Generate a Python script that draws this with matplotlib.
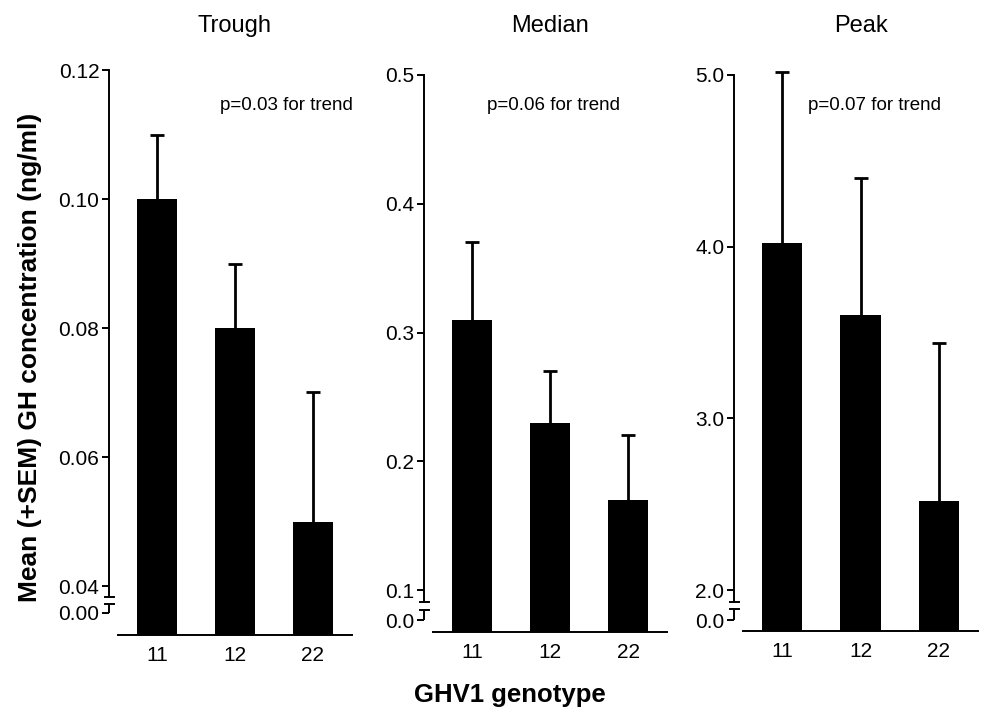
import matplotlib
matplotlib.use('Agg')
import matplotlib.pyplot as plt
import numpy as np
from matplotlib.transforms import blended_transform_factory

plt.rcParams['font.family'] = ['Liberation Sans', 'DejaVu Sans']
plt.rcParams['font.size'] = 15

# Data
genotypes = ['11', '12', '22']
panel_titles = ['Trough', 'Median', 'Peak']
p_texts = ['p=0.03 for trend', 'p=0.06 for trend', 'p=0.07 for trend']

trough_mean = [0.100, 0.080, 0.050]
trough_sem = [0.010, 0.010, 0.020]
median_mean = [0.31, 0.23, 0.17]
median_sem = [0.06, 0.04, 0.05]
peak_mean = [4.02, 3.60, 2.52]
peak_sem = [1.00, 0.80, 0.92]

trough_ticks = [0.00, 0.04, 0.06, 0.08, 0.10, 0.12]
median_ticks = [0.0, 0.1, 0.2, 0.3, 0.4, 0.5]
peak_ticks = [0.0, 2.0, 3.0, 4.0, 5.0]

W, H = 983, 711

# Layout in pixels: left, right, y of top tick, y of lowest upper tick,
# upper break cap, lower break cap, y of zero, baseline
layouts = [
    dict(l=118, r=352, top=70, low=586, cap_hi=597, cap_lo=604, zero=613, base=635,
         fmt='{:.2f}', ptx=0.436),
    dict(l=433, r=667, top=75, low=590, cap_hi=602, cap_lo=610, zero=620, base=632,
         fmt='{:.1f}', ptx=0.23),
    dict(l=743, r=978, top=75, low=590, cap_hi=602, cap_lo=609, zero=620, base=631,
         fmt='{:.1f}', ptx=0.277),
]

panels = [
    (trough_mean, trough_sem, trough_ticks),
    (median_mean, median_sem, median_ticks),
    (peak_mean, peak_sem, peak_ticks),
]

fig = plt.figure(figsize=(W / 100, H / 100), dpi=100)

spine_off = 9  # px between y axis and start of x axis
lw = 1.4

for i, ((means, sems, ticks), lay) in enumerate(zip(panels, layouts)):
    top_v = ticks[-1]
    low_v = ticks[1]
    k = (lay['low'] - lay['top']) / (top_v - low_v)  # px per unit, upper part
    k2 = (lay['zero'] - lay['low']) / low_v          # px per unit, compressed part
    c = k2 / k

    def fwd(v, low_v=low_v, c=c):
        v = np.asarray(v, dtype=float)
        return np.where(v >= low_v, v, low_v - (low_v - v) * c)

    def inv(u, low_v=low_v, c=c):
        u = np.asarray(u, dtype=float)
        return np.where(u >= low_v, u, low_v - (low_v - u) / c)

    y_bottom = low_v - (lay['base'] - lay['low']) / k2
    v_cap_hi = low_v - (lay['cap_hi'] - lay['low']) / k2
    v_cap_lo = low_v - (lay['cap_lo'] - lay['low']) / k2

    ax = fig.add_axes([lay['l'] / W, 1 - lay['base'] / H,
                       (lay['r'] - lay['l']) / W, (lay['base'] - lay['top']) / H])
    ax.set_yscale('function', functions=(fwd, inv))
    ax.set_ylim(y_bottom, top_v)
    ax.set_xlim(-0.5, 2.5)

    x = np.arange(len(genotypes))
    heights = np.array(means) - y_bottom
    ax.bar(x, heights, bottom=y_bottom, width=0.513, color='black', zorder=2)
    eb = ax.errorbar(x, means, yerr=[np.zeros(len(sems)), sems], fmt='none',
                     ecolor='black', elinewidth=2, capsize=5, capthick=2, zorder=1)
    eb[1][0].set_visible(False)  # no cap at the bar top
    for art in list(eb[1]) + list(eb[2]):
        art.set_clip_on(False)

    # axes styling
    for s in ['top', 'right']:
        ax.spines[s].set_visible(False)
    ax.spines['bottom'].set_linewidth(lw)
    ax.spines['left'].set_linewidth(lw)
    ax.spines['left'].set_position(('outward', spine_off * 0.72))
    ax.spines['left'].set_bounds(v_cap_hi, top_v)

    ax.set_yticks(ticks)
    ax.set_yticklabels([lay['fmt'].format(t) for t in ticks])
    ax.yaxis.set_minor_locator(matplotlib.ticker.NullLocator())
    ax.tick_params(axis='y', length=5, width=lw, labelsize=15, pad=2)
    ax.set_xticks(x)
    ax.set_xticklabels(genotypes)
    ax.tick_params(axis='x', length=0, labelsize=15, pad=8)

    # broken axis: lower segment and caps
    w_px = lay['r'] - lay['l']
    xs = -spine_off / w_px
    half = 4.5 / w_px
    tr = blended_transform_factory(ax.transAxes, ax.transData)
    ax.plot([xs, xs], [v_cap_lo, 0], color='black', lw=lw, transform=tr,
            clip_on=False, solid_capstyle='butt')
    ax.plot([xs - half, xs + half], [v_cap_hi, v_cap_hi], color='black', lw=lw,
            transform=tr, clip_on=False)
    ax.plot([xs - half, xs + half], [v_cap_lo, v_cap_lo], color='black', lw=lw,
            transform=tr, clip_on=False)

    h_px = lay['base'] - lay['top']
    ax.text(0.5, 1 + (lay['top'] - 26) / h_px, panel_titles[i], transform=ax.transAxes,
            ha='center', va='center', fontsize=17)
    ax.text(lay['ptx'], (lay['base'] - 105) / h_px, p_texts[i], transform=ax.transAxes,
            ha='left', va='center', fontsize=13.5)

fig.text(30 / W, 1 - 357 / H, 'Mean (+SEM) GH concentration (ng/ml)', rotation=90,
         ha='center', va='center', fontsize=19, fontweight='bold')
fig.text(510 / W, 1 - 695 / H, 'GHV1 genotype', ha='center', va='center',
         fontsize=18.5, fontweight='bold')

fig.savefig('out.png', dpi=100)
